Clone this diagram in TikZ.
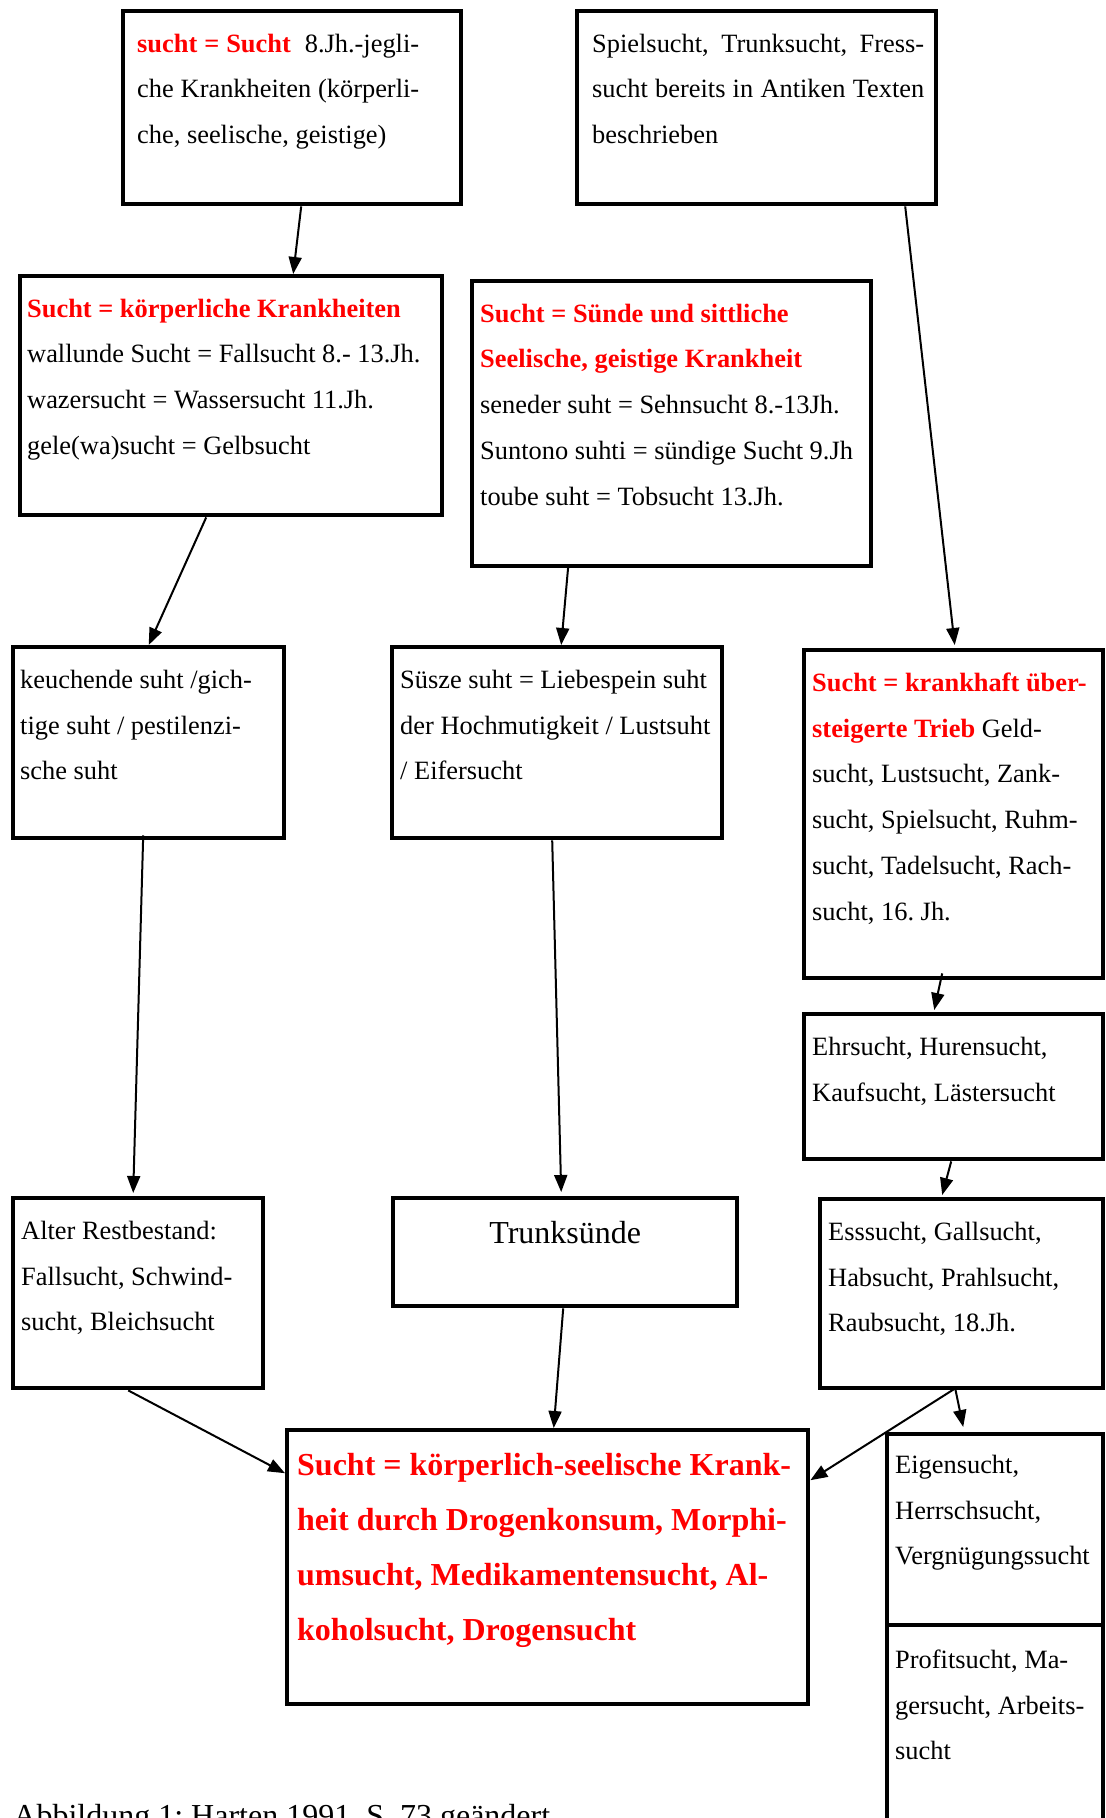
\documentclass[tikz,border=0pt]{standalone}
\usepackage{fontspec}
\setmainfont{Liberation Serif}
\usepackage{tikz}
\usetikzlibrary{arrows.meta}
\tikzstyle{stbox}=[draw,line width=2.2pt,inner sep=0pt,anchor=north west]
\tikzstyle{link} = [draw,line width=1pt,-{Triangle[length=8.5pt,width=6.5pt]}]
\newcommand{\bodyfont}{\fontsize{13.2}{22.9}\selectfont\frenchspacing}
\newcommand{\bigfont}{\fontsize{16}{27.6}\selectfont\frenchspacing}
\newcommand{\rottxt}[1]{\textcolor{red}{\textbf{#1}}}
% width, height, left inset, right inset, first baseline, text
\newcommand{\boxtxt}[6]{\parbox[t][#2][t]{#1}{\bodyfont\leftskip=#3\rightskip=#4\noindent\rule{0pt}{#5}#6}}

\begin{document}
\begin{tikzpicture}[x=1pt,y=-1pt]
    \useasboundingbox (0,0) rectangle (553,909);
    % top row
    \node[stbox] (b1) at (60.5,4.5) {\boxtxt{169pt}{96.5pt}{7pt}{21pt}{20.5pt}{\rottxt{sucht = Sucht}\ \ 8.Jh.-jegli-\linebreak che Krankheiten (körperli-\linebreak che, seelische, geistige)}};
    \node[stbox] (b2) at (287.5,4.5) {\boxtxt{179.5pt}{96.5pt}{7.5pt}{6pt}{20.5pt}{Spielsucht, Trunksucht, Fress-\linebreak sucht bereits in Antiken Texten\linebreak beschrieben}};
    % second row
    \node[stbox] (b3) at (9,137) {\boxtxt{211pt}{119.5pt}{3.5pt}{0pt}{20.5pt}{\rottxt{Sucht = körperliche Krankheiten}\\ wallunde Sucht = Fallsucht 8.- 13.Jh.\\ wazersucht = Wassersucht 11.Jh.\\ gele(wa)sucht = Gelbsucht}};
    \node[stbox] (b4) at (235,139.5) {\boxtxt{199.5pt}{142.5pt}{4pt}{0pt}{20.5pt}{\rottxt{Sucht = Sünde und sittliche}\\ \rottxt{Seelische, geistige Krankheit}\\ seneder suht = Sehnsucht 8.-13Jh.\\ Suntono suhti = sündige Sucht 9.Jh\\ toube suht = Tobsucht 13.Jh.}};
    % third row
    \node[stbox] (b5) at (5.5,322.5) {\boxtxt{135.5pt}{95.5pt}{3.5pt}{0pt}{20.5pt}{keuchende suht /gich-\\ tige suht / pestilenzi-\\ sche suht}};
    \node[stbox] (b6) at (195,322.5) {\boxtxt{165pt}{95.5pt}{4pt}{0pt}{20.5pt}{Süsze suht = Liebespein suht\\ der Hochmutigkeit / Lustsuht\\ / Eifersucht}};
    \node[stbox] (b7) at (401,324) {\boxtxt{149.5pt}{164pt}{4pt}{0pt}{20.5pt}{\rottxt{Sucht = krankhaft über-}\\ \rottxt{steigerte Trieb} Geld-\\ sucht, Lustsucht, Zank-\\ sucht, Spielsucht, Ruhm-\\ sucht, Tadelsucht, Rach-\\ sucht, 16. Jh.}};
    \node[stbox] (b8) at (401,506) {\boxtxt{149.5pt}{72.5pt}{4pt}{0pt}{20.5pt}{Ehrsucht, Hurensucht,\\ Kaufsucht, Lästersucht}};
    % fourth row
    \node[stbox] (b9) at (5.5,598) {\boxtxt{125pt}{95pt}{4pt}{0pt}{20.5pt}{Alter Restbestand:\\ Fallsucht, Schwind-\\ sucht, Bleichsucht}};
    \node[stbox] (b10) at (195.5,598) {\boxtxt{172pt}{54pt}{0pt}{0pt}{22.5pt}{\bigfont\centering Trunksünde}};
    \node[stbox] (b11) at (409,598.5) {\boxtxt{141.5pt}{94.5pt}{4pt}{0pt}{20.5pt}{Esssucht, Gallsucht,\\ Habsucht, Prahlsucht,\\ Raubsucht, 18.Jh.}};
    % bottom
    \node[stbox] (b12) at (142.5,714) {\boxtxt{260.5pt}{137pt}{5pt}{0pt}{22.5pt}{\bigfont\color{red}\bfseries Sucht = körperlich-seelische Krank-\\ heit durch Drogenkonsum, Morphi-\\ umsucht, Medikamentensucht, Al-\\ koholsucht, Drogensucht}};
    \node[stbox] (b13) at (442.5,716) {\boxtxt{108pt}{95.5pt}{4pt}{0pt}{19.5pt}{Eigensucht,\\ Herrschsucht,\\ Vergnügungssucht}};
    \node[stbox] (b14) at (442.5,811.5) {\boxtxt{108pt}{120pt}{4pt}{0pt}{21.5pt}{Profitsucht, Ma-\\ gersucht, Arbeits-\\ sucht}};
    \node[anchor=base west,inner sep=0pt,font=\bigfont] (caption) at (6.5,913) {Abbildung 1: Harten 1991, S. 73 geändert};
    % connectors
    \foreach \src/\sx/\sy/\dst/\dx/\dy in {b1/4.5/0/b3/31/0, b2/74.25/0/b7/0.5/1.5,
            b3/-12.5/0/b5/0/0, b4/-51.75/1/b6/2/0, b7/-5.75/3.5/b8/-9.75/1,
            b8/-1.25/0/b11/-9.75/1, b5/-2.75/2.5/b9/-2.5/1.5, b6/-2.5/0/b10/-2/2,
            b10/-1/0/b12/3/0, b11/-3.25/1/b13/-16/2.5}
        \path[link] ([xshift=\sx pt,yshift=\sy pt]\src.south) -- ([xshift=\dx pt,yshift=\dy pt]\dst.north);
    \path[link] ([xshift=-5pt]b9.south) -- ([yshift=47pt]b12.west);
    \path[link] ([xshift=-3.25pt,yshift=1pt]b11.south) -- ([yshift=43.5pt]b12.east);
\end{tikzpicture}
\end{document}
